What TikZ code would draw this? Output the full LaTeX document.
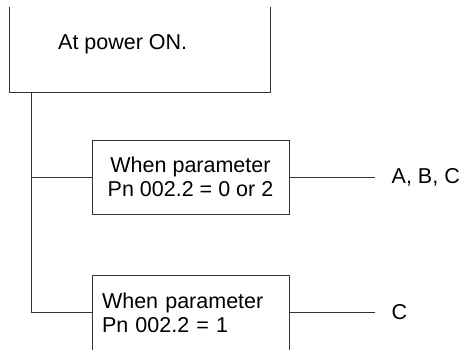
\documentclass[tikz,border=0pt]{standalone}
\usepackage{fontspec}
\setmainfont{Liberation Sans}
\usepackage{tikz}
\usetikzlibrary{positioning}

\newcommand{\diagfont}{\fontsize{21.5}{24}\selectfont}

\begin{document}
\begin{tikzpicture}[
  x=1pt, y=-1pt,
  node distance=60pt,
  wire/.style={draw=black!80, line width=1pt},
  condbox/.style={wire, minimum width=197pt, minimum height=74.5pt, inner sep=0pt, align=center, font=\diagfont},
  outlabel/.style={font=\diagfont, inner xsep=17pt, inner ysep=0pt, anchor=west}
]
  \useasboundingbox (0,0) rectangle (460,349);

  % top box, cut off at the top
  \node[minimum width=260pt, minimum height=85pt, inner sep=0pt] (powerbox) at (140,49.5) {};
  \draw[wire] (powerbox.north west) |- (powerbox.south east) -- (powerbox.north east);
  \node[font=\diagfont, anchor=base west, inner sep=0pt] (power) at (58,49) {At power ON.};

  \node[condbox] (cond1) at (190.5,177.3) {When parameter\\Pn 002.2 = 0 or 2};
  \node[condbox, below=59.5pt of cond1, minimum height=75pt, text width=177pt, inner xsep=10pt, align=left] (cond2) {When parameter\\Pn 002.2 = 1};

  \node[outlabel, right=85pt of cond1] (out1) {A, B, C};
  \node[outlabel, right=85pt of cond2] (out2) {C};

  \coordinate (spine) at (31,92);
  \draw[wire] (spine) |- (cond1.west);
  \draw[wire] (spine) |- (cond2.west);
  \draw[wire] (cond1) -- (out1);
  \draw[wire] (cond2) -- (out2);
\end{tikzpicture}
\end{document}
